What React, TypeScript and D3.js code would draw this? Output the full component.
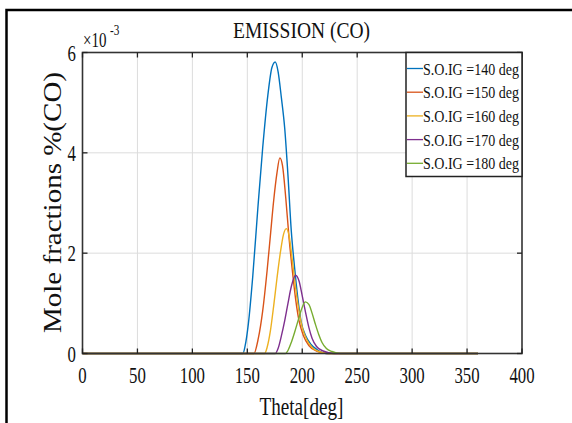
import React from "react";
import * as d3 from "d3";

const seriesLabels = [
  "S.O.IG =140 deg",
  "S.O.IG =150 deg",
  "S.O.IG =160 deg",
  "S.O.IG =170 deg",
  "S.O.IG =180 deg",
];
const seriesColors = ["#0072BD", "#D95319", "#EDB120", "#7E2F8E", "#77AC30"];

// values in units of 1e-3 mole fraction, [theta (deg), value]
const soig140: [number, number][] = [
  [0, 0], [146, 0], [148, 0.15], [151, 0.6], [155, 1.55], [159.6, 2.9], [164, 4.1],
  [168.7, 5.15], [172.4, 5.7], [175.4, 5.81], [178, 5.62], [181, 5.1], [184, 4.5],
  [187, 3.55], [190, 2.45], [193, 1.72], [196, 1.1], [199, 0.63], [203, 0.36],
  [208, 0.18], [214, 0.07], [222, 0], [360, 0],
];
const soig150: [number, number][] = [
  [0, 0], [156, 0], [160, 0.3], [164, 0.85], [168, 1.65], [171, 2.35], [174, 3.05],
  [177, 3.6], [179.6, 3.9], [182, 3.75], [185, 3.1], [188, 2.3], [191, 1.65],
  [194, 1.08], [197, 0.66], [201, 0.36], [206, 0.16], [213, 0.05], [223, 0], [360, 0],
];
const soig160: [number, number][] = [
  [0, 0], [165.7, 0], [168, 0.12], [171, 0.45], [174, 0.95], [177, 1.5], [180, 2.0],
  [183, 2.38], [185.5, 2.49], [188, 2.35], [191, 1.85], [194, 1.3], [197, 0.85],
  [200, 0.52], [204, 0.28], [209, 0.12], [215, 0.04], [224, 0], [360, 0],
];
const soig170: [number, number][] = [
  [0, 0], [175.5, 0], [178, 0.1], [181, 0.35], [184, 0.65], [187, 1.0], [190, 1.33],
  [193.9, 1.56], [197, 1.45], [200, 1.15], [203, 0.82], [206, 0.52], [209, 0.3],
  [213, 0.14], [219, 0.05], [229, 0], [360, 0],
];
const soig180: [number, number][] = [
  [0, 0], [184.8, 0], [187, 0.06], [190, 0.22], [193, 0.42], [196, 0.64], [199, 0.86],
  [202.7, 1.03], [206, 0.98], [209, 0.8], [212, 0.58], [215, 0.38], [218, 0.22],
  [222, 0.1], [227, 0.04], [235, 0], [360, 0],
];
const allSeries = [soig140, soig150, soig160, soig170, soig180];

const xTicks = [0, 50, 100, 150, 200, 250, 300, 350, 400];
const yTicks = [0, 2, 4, 6];

const W = 572;
const H = 423;
const L = 82.5;
const R = 522;
const T = 52.5;
const B = 353.5;
const FONT = "'Liberation Serif', 'Times New Roman', serif";

export default function App() {
  const x = d3.scaleLinear().domain([0, 400]).range([L, R]);
  const y = d3.scaleLinear().domain([0, 6]).range([B, T]);
  const line = d3
    .line<[number, number]>()
    .x((d) => x(d[0]))
    .y((d) => y(d[1]))
    .curve(d3.curveMonotoneX);

  const legX = 406;
  const legY = T;
  const legW = R - legX;
  const legH = 124;
  const rowY = (i: number) => 68.5 + i * 23.7;

  return (
    <svg
      width={W}
      height={H}
      style={{ position: "absolute", left: 0, top: 0, display: "block", background: "#fff" }}
    >
      <rect x={0} y={0} width={W} height={H} fill="#fff" />
      {/* outer frame */}
      <rect x={6.5} y={10} width={700} height={600} fill="none" stroke="#000" strokeWidth={2.5} />

      {/* grid */}
      {xTicks.slice(1, -1).map((t) => (
        <line key={"gx" + t} x1={x(t)} x2={x(t)} y1={T} y2={B} stroke="#dcdcdc" strokeWidth={1} />
      ))}
      {yTicks.slice(1, -1).map((t) => (
        <line key={"gy" + t} x1={L} x2={R} y1={y(t)} y2={y(t)} stroke="#dcdcdc" strokeWidth={1} />
      ))}

      {/* series */}
      {allSeries.map((s, i) => (
        <path key={"s" + i} d={line(s) || ""} fill="none" stroke={seriesColors[i]} strokeWidth={1.4} />
      ))}

      {/* axes box */}
      <rect x={L} y={T} width={R - L} height={B - T} fill="none" stroke="#333" strokeWidth={1.6} />
      {xTicks.map((t) => (
        <g key={"tx" + t}>
          <line x1={x(t)} x2={x(t)} y1={B} y2={B - 5} stroke="#222" strokeWidth={1.3} />
          <line x1={x(t)} x2={x(t)} y1={T} y2={T + 5} stroke="#222" strokeWidth={1.3} />
          <text
            transform={`translate(${x(t)},383) scale(0.7,1)`}
            textAnchor="middle"
            fontFamily={FONT}
            fontSize={24}
            fill="#111"
          >
            {t}
          </text>
        </g>
      ))}
      {yTicks.map((t) => (
        <g key={"ty" + t}>
          <line x1={L} x2={L + 5} y1={y(t)} y2={y(t)} stroke="#222" strokeWidth={1.3} />
          <line x1={R} x2={R - 5} y1={y(t)} y2={y(t)} stroke="#222" strokeWidth={1.3} />
          <text
            transform={`translate(76,${y(t) + 8}) scale(0.7,1)`}
            textAnchor="end"
            fontFamily={FONT}
            fontSize={24}
            fill="#111"
          >
            {t}
          </text>
        </g>
      ))}

      {/* exponent */}
      <text transform="translate(83,47) scale(0.75,1)" fontFamily={FONT} fontSize={20} fill="#111">
        ×10
      </text>
      <text transform="translate(110,35) scale(0.75,1)" fontFamily={FONT} fontSize={15} fill="#111">
        -3
      </text>

      {/* title */}
      <text
        x={301.5}
        y={38}
        textAnchor="middle"
        fontFamily={FONT}
        fontSize={24}
        fill="#111"
        textLength={137}
        lengthAdjust="spacingAndGlyphs"
      >
        EMISSION (CO)
      </text>

      {/* x label */}
      <text
        x={301.5}
        y={415}
        textAnchor="middle"
        fontFamily={FONT}
        fontSize={26}
        fill="#111"
        textLength={84}
        lengthAdjust="spacingAndGlyphs"
      >
        Theta[deg]
      </text>

      {/* y label */}
      <text
        transform="translate(61,202.5) rotate(-90)"
        textAnchor="middle"
        fontFamily={FONT}
        fontSize={25}
        fill="#111"
        textLength={261}
        lengthAdjust="spacingAndGlyphs"
      >
        Mole fractions %(CO)
      </text>

      {/* legend */}
      <rect x={legX} y={legY} width={legW} height={legH} fill="#fff" stroke="#222" strokeWidth={1.5} />
      {seriesLabels.map((lab, i) => (
        <g key={"lg" + i}>
          <line x1={legX + 1} x2={legX + 17} y1={rowY(i)} y2={rowY(i)} stroke={seriesColors[i]} strokeWidth={1.3} />
          <text
            x={legX + 17}
            y={rowY(i) + 6}
            fontFamily={FONT}
            fontSize={17.5}
            fill="#111"
            textLength={96}
            lengthAdjust="spacingAndGlyphs"
          >
            {lab}
          </text>
        </g>
      ))}
    </svg>
  );
}
